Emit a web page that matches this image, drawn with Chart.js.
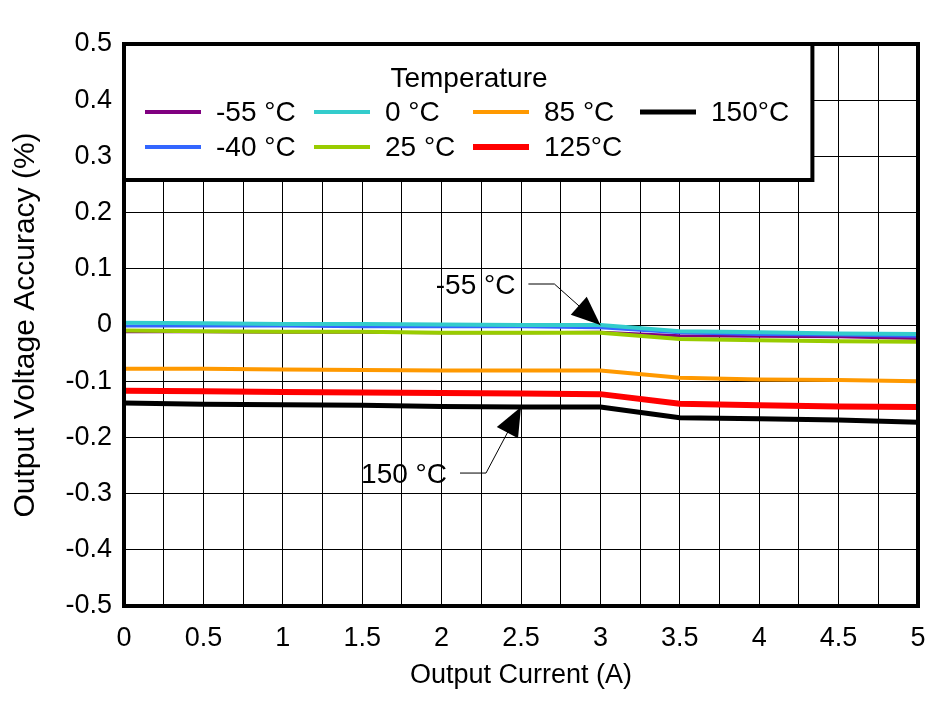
<!DOCTYPE html>
<html>
<head>
<meta charset="utf-8">
<script src="https://cdn.jsdelivr.net/npm/chart.js@4.4.1/dist/chart.umd.min.js"></script>
<style>
  html, body { margin: 0; padding: 0; background: #fff; }
  canvas { display: block; }
</style>
</head>
<body>
<canvas id="c" width="950" height="701"></canvas>
<script>
// ---- Data ----
const currents = [0, 0.5, 1, 1.5, 2, 2.5, 3, 3.5, 4, 4.5, 5];            // Output Current (A)
const tempM55 = [-0.012, -0.012, -0.013, -0.013, -0.014, -0.014, -0.013, -0.019, -0.020, -0.021, -0.024];
const tempM40 = [-0.002, -0.002, -0.002, -0.003, -0.003, -0.003, -0.005, -0.014, -0.017, -0.018, -0.020];
const temp0   = [0.004, 0.003, 0.002, 0.002, 0.001, 0.000, 0.000, -0.011, -0.013, -0.015, -0.016];
const temp25  = [-0.010, -0.011, -0.012, -0.012, -0.014, -0.014, -0.014, -0.025, -0.027, -0.029, -0.030];
const temp85  = [-0.078, -0.078, -0.079, -0.080, -0.081, -0.081, -0.081, -0.094, -0.097, -0.098, -0.100];
const temp125 = [-0.117, -0.118, -0.119, -0.120, -0.121, -0.122, -0.123, -0.140, -0.143, -0.145, -0.146];
const temp150 = [-0.139, -0.141, -0.142, -0.143, -0.145, -0.146, -0.146, -0.165, -0.167, -0.169, -0.173];
const seriesLabels = ['-55 °C', '-40 °C', '0 °C', '25 °C', '85 °C', '125°C', '150°C'];
const legendTitle = 'Temperature';
const xTitle = 'Output Current (A)';
const yTitle = 'Output Voltage Accuracy (%)';
const annotLow = '-55 °C';
const annotHigh = '150 °C';

const FONT = '"Liberation Sans", Arial, Helvetica, sans-serif';

function pts(ys) { return currents.map((x, i) => ({ x: x, y: ys[i] })); }

const styles = [
  { color: '#800080', width: 3, order: 7, legendWidth: 4 },
  { color: '#3366FF', width: 3, order: 6, legendWidth: 4 },
  { color: '#33CCCC', width: 4, order: 5, legendWidth: 4 },
  { color: '#99CC00', width: 4, order: 4, legendWidth: 4 },
  { color: '#FF9900', width: 4, order: 3, legendWidth: 4 },
  { color: '#FF0000', width: 6, order: 2, legendWidth: 6 },
  { color: '#000000', width: 5, order: 1, legendWidth: 5 }
];
const seriesData = [tempM55, tempM40, temp0, temp25, temp85, temp125, temp150];

const datasets = seriesData.map((ys, i) => ({
  label: seriesLabels[i],
  data: pts(ys),
  borderColor: styles[i].color,
  backgroundColor: styles[i].color,
  borderWidth: styles[i].width,
  pointRadius: 0,
  tension: 0,
  fill: false,
  order: styles[i].order
}));

// Legend box drawn inside the plot (value coordinates for box corner)
const legendPlugin = {
  id: 'boxLegend',
  afterDatasetsDraw(chart) {
    const { ctx, chartArea, scales } = chart;
    const left = chartArea.left, top = chartArea.top;
    const right = scales.x.getPixelForValue(4.335);
    const bottom = scales.y.getPixelForValue(0.258);
    ctx.save();
    ctx.fillStyle = '#fff';
    ctx.fillRect(left, top, right - left, bottom - top);
    ctx.lineWidth = 4;
    ctx.strokeStyle = '#000';
    ctx.strokeRect(left, top, right - left, bottom - top);

    ctx.fillStyle = '#000';
    ctx.font = '28px ' + FONT;
    ctx.textBaseline = 'middle';
    ctx.textAlign = 'center';
    ctx.fillText(legendTitle, left + 345, top + 35);

    const cols = [21, 190, 349, 516];
    const rows = [68, 103];
    const layout = [[0, 0], [0, 1], [1, 0], [1, 1], [2, 0], [2, 1], [3, 0]];
    ctx.textAlign = 'left';
    layout.forEach(([c, r], i) => {
      const x0 = left + cols[c];
      const y0 = top + rows[r];
      ctx.beginPath();
      ctx.lineWidth = styles[i].legendWidth;
      ctx.strokeStyle = styles[i].color;
      ctx.moveTo(x0, y0);
      ctx.lineTo(x0 + 56, y0);
      ctx.stroke();
      ctx.fillStyle = '#000';
      ctx.fillText(seriesLabels[i], x0 + 71, y0 + 1);
    });
    ctx.restore();

    // annotations with arrows
    drawArrowLabel(ctx, scales.x.getPixelForValue(3), scales.y.getPixelForValue(temp0[6]), -46, -41, annotLow);
    drawArrowLabel(ctx, scales.x.getPixelForValue(2.5), scales.y.getPixelForValue(temp150[5]), -35, 66, annotHigh);
  },
  afterDraw(chart) {
    const { ctx, chartArea } = chart;
    ctx.save();
    ctx.lineWidth = 4;
    ctx.strokeStyle = '#000';
    ctx.strokeRect(chartArea.left, chartArea.top, chartArea.right - chartArea.left, chartArea.bottom - chartArea.top);
    ctx.restore();
  }
};

function drawArrowLabel(ctx, tx, ty, dx, dy, text) {
  const ex = tx + dx, ey = ty + dy;        // elbow
  const sx = ex - 26, sy = ey;             // start of horizontal leader
  ctx.save();
  ctx.strokeStyle = '#000';
  ctx.lineWidth = 1;
  ctx.beginPath();
  ctx.moveTo(sx, sy);
  ctx.lineTo(ex, ey);
  ctx.lineTo(tx, ty);
  ctx.stroke();
  // arrow head
  const len = Math.hypot(tx - ex, ty - ey);
  const ux = (tx - ex) / len, uy = (ty - ey) / len;
  const hl = 29, hw = 12;
  const bx = tx - ux * hl, by = ty - uy * hl;
  ctx.fillStyle = '#000';
  ctx.beginPath();
  ctx.moveTo(tx, ty);
  ctx.lineTo(bx - uy * hw, by + ux * hw);
  ctx.lineTo(bx + uy * hw, by - ux * hw);
  ctx.closePath();
  ctx.fill();
  // text
  ctx.font = '28px ' + FONT;
  ctx.textAlign = 'right';
  ctx.textBaseline = 'middle';
  ctx.fillText(text, sx - 13, sy + 2);
  ctx.restore();
}

new Chart(document.getElementById('c'), {
  type: 'line',
  data: { datasets: datasets },
  plugins: [legendPlugin],
  options: {
    responsive: false,
    devicePixelRatio: 1,
    animation: false,
    layout: { padding: { top: 44, right: 32, left: 0, bottom: 0 } },
    plugins: { legend: { display: false }, tooltip: { enabled: false } },
    scales: {
      x: {
        type: 'linear',
        min: 0, max: 5,
        afterFit(scale) { scale.height = 95; },
        grid: { color: '#000', lineWidth: 1, drawTicks: false },
        border: { display: false },
        ticks: {
          stepSize: 0.25,
          autoSkip: false,
          maxRotation: 0,
          padding: 16,
          color: '#000',
          font: { family: FONT, size: 27 },
          callback(v) {
            const d = v * 2;
            if (Math.abs(d - Math.round(d)) > 1e-6) return '';
            return String(Math.round(d) / 2);
          }
        },
        title: {
          display: true, text: xTitle, color: '#000',
          font: { family: FONT, size: 27 },
          padding: { top: 0, bottom: 9 }
        }
      },
      y: {
        type: 'linear',
        min: -0.5, max: 0.5,
        afterFit(scale) { scale.width = 124; },
        grid: { color: '#000', lineWidth: 1, drawTicks: false },
        border: { display: false },
        ticks: {
          stepSize: 0.1,
          padding: 12,
          color: '#000',
          font: { family: FONT, size: 27 },
          callback(v) {
            const r = Math.round(v * 10) / 10;
            return r === 0 ? '0' : r.toFixed(1);
          }
        },
        title: {
          display: true, text: yTitle, color: '#000',
          font: { family: FONT, size: 30 },
          padding: { top: 8, bottom: 0 }
        }
      }
    }
  }
});
</script>
</body>
</html>
